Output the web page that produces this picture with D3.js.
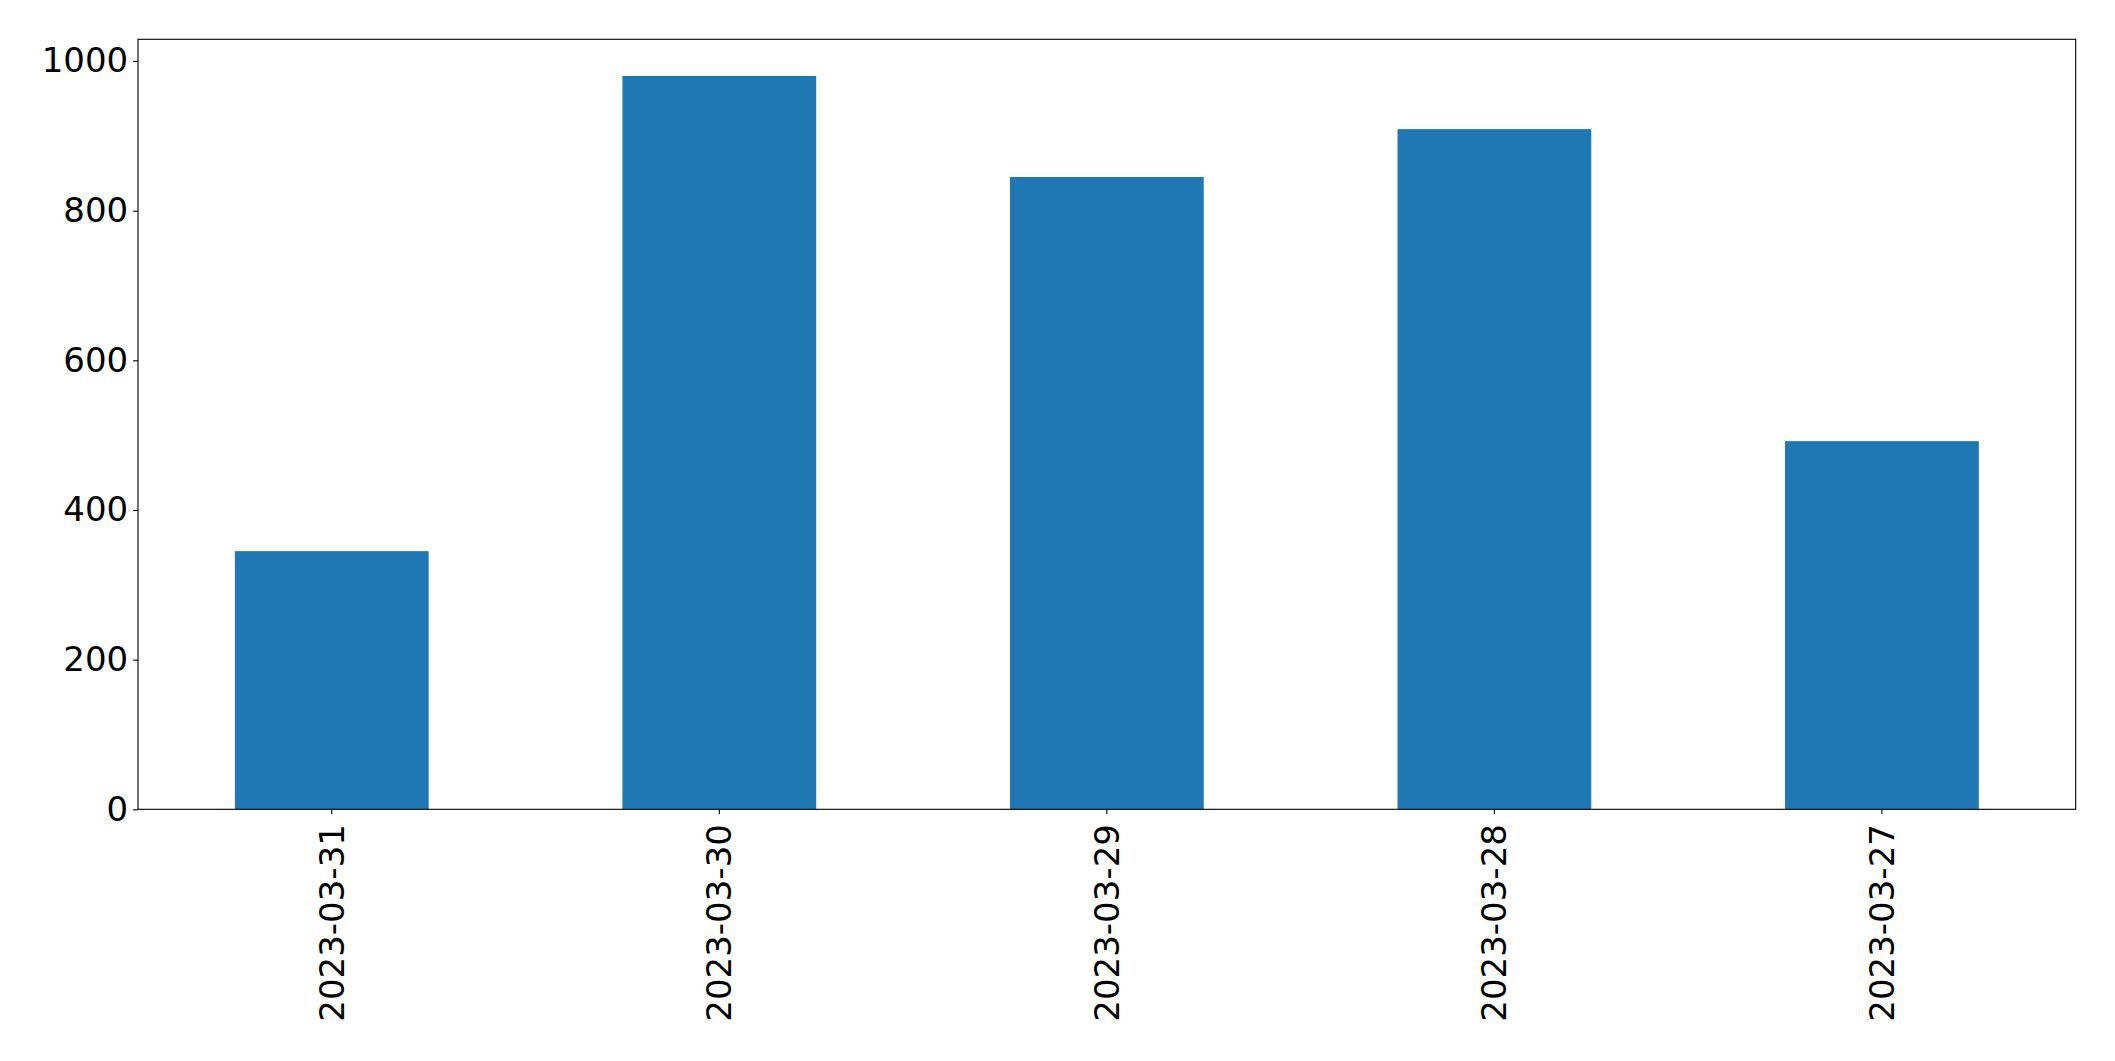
<!DOCTYPE html>
<html>
<head>
<meta charset="utf-8">
<script src="https://cdn.jsdelivr.net/npm/d3@7"></script>
<style>
  html, body { margin: 0; padding: 0; background: #ffffff; }
  svg { display: block; }
  text { font-family: "DejaVu Sans", sans-serif; fill: #000; }
</style>
</head>
<body>
<script>
const categories = ["2023-03-31", "2023-03-30", "2023-03-29", "2023-03-28", "2023-03-27"];
const values = [345, 980, 845, 909, 492];
const yTicks = [0, 200, 400, 600, 800, 1000];

const W = 2115, H = 1061;
const margin = { left: 138, top: 39.3, right: 2115 - 2075.7, bottom: 1061 - 809.3 };
const fontSize = 34;
const tickLen = 4.9, tickPad = 4.9;

const svg = d3.select("body").append("svg").attr("width", W).attr("height", H);

const x = d3.scaleBand()
  .domain(categories)
  .range([margin.left, W - margin.right])
  .paddingInner(0.5)
  .paddingOuter(0.25);

const yMax = d3.max(values) * 1.05;
const y = d3.scaleLinear().domain([0, yMax]).range([H - margin.bottom, margin.top]);

// bars
svg.append("g").selectAll("rect")
  .data(values)
  .join("rect")
  .attr("x", (d, i) => x(categories[i]))
  .attr("width", x.bandwidth())
  .attr("y", d => y(d))
  .attr("height", d => y(0) - y(d))
  .attr("fill", "#1f77b4");

// y axis
const yAxis = d3.axisLeft(y).tickValues(yTicks).tickSize(tickLen).tickPadding(tickPad).tickFormat(d3.format("d"));
const gy = svg.append("g").attr("transform", `translate(${margin.left},0)`).call(yAxis);
gy.select(".domain").remove();
gy.selectAll(".tick line").attr("stroke", "#000").attr("stroke-width", 1.1);
gy.selectAll(".tick text").attr("font-size", fontSize).attr("font-family", "DejaVu Sans");

// x axis
const xAxis = d3.axisBottom(x).tickSize(tickLen).tickPadding(tickPad);
const gx = svg.append("g").attr("transform", `translate(0,${H - margin.bottom})`).call(xAxis);
gx.select(".domain").remove();
gx.selectAll(".tick line").attr("stroke", "#000").attr("stroke-width", 1.1);
gx.selectAll(".tick text")
  .attr("font-size", fontSize)
  .attr("font-family", "DejaVu Sans")
  .attr("text-anchor", "end")
  .attr("dy", "0.35em")
  .attr("x", -(tickLen + tickPad + 5))
  .attr("y", 0)
  .attr("transform", "rotate(-90)");

// frame
svg.append("rect")
  .attr("x", margin.left)
  .attr("y", margin.top)
  .attr("width", W - margin.right - margin.left)
  .attr("height", H - margin.bottom - margin.top)
  .attr("fill", "none")
  .attr("stroke", "#000")
  .attr("stroke-width", 1.1);
</script>
</body>
</html>
